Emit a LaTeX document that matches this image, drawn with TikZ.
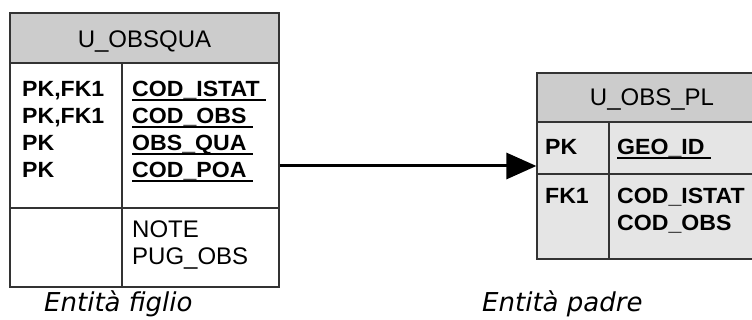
\documentclass[tikz,border=0pt]{standalone}
\usepackage{fontspec}
\setmainfont{Liberation Sans}
\newfontfamily\keyfont[FakeStretch=1.05]{Liberation Sans}
\newfontfamily\capfont{DejaVu Sans}
\usetikzlibrary{arrows.meta,positioning}

\tikzset{
    tabbox/.style={draw=black!80, line width=1.2pt, inner sep=0pt},
    tabline/.style={draw=black!80, line width=1.2pt},
    headtext/.style={font=\fontsize{24}{24}\selectfont, inner sep=0pt, anchor=base},
    keytext/.style={font=\keyfont\bfseries\fontsize{22}{22}\selectfont, inner sep=0pt, anchor=base west},
    plaintext/.style={font=\fontsize{24}{24}\selectfont, inner sep=0pt, anchor=base west},
    uline/.style={line width=2.2pt},
    captext/.style={font=\capfont\itshape\fontsize{26}{26}\selectfont, inner sep=0pt, anchor=base west}
}

\begin{document}
\begin{tikzpicture}[x=1pt, y=-1pt]
    \useasboundingbox (0,0) rectangle (752,320);
    \clip (0,0) rectangle (752,320);

    % Child entity
    \node[tabbox, fill=white, minimum width=269pt, minimum height=274pt] (child) at (144.5,150) {};
    \node[tabbox, fill=gray!40, minimum width=269pt, minimum height=50pt] (childhead) at (144.5,38) {};
    \draw[tabline] (122,63) -- (122,287);
    \draw[tabline] (10,208) -- (279,208);
    \node[headtext] (childname) at (144.5,48) {U\_OBSQUA};
    \foreach \y/\k/\n [count=\i] in {97/{PK,FK1}/{COD\_ISTAT}, 124/{PK,FK1}/{COD\_OBS},
                                     151/PK/{OBS\_QUA}, 178/PK/{COD\_POA}} {
        \node[keytext] (ck\i) at (22,\y) {\k};
        \node[keytext] (cn\i) at (132,\y) {\n};
        \draw[uline] ([yshift=-3pt]cn\i.base west) -- ([xshift=6pt,yshift=-3pt]cn\i.base east);
    }
    \node[plaintext] (cnote) at (132,238) {NOTE};
    \node[plaintext] (cpug) at (132,265) {PUG\_OBS};

    % Parent entity
    \node[tabbox, fill=gray!20, minimum width=230pt, minimum height=186pt] (parent) at (652,166) {};
    \node[tabbox, fill=gray!40, minimum width=230pt, minimum height=49pt] (parenthead) at (652,97.5) {};
    \draw[tabline] (609,122) -- (609,259);
    \draw[tabline] (537,174) -- (767,174);
    \node[headtext] (parentname) at (652,106) {U\_OBS\_PL};
    \node[keytext] (pk1) at (545,155) {PK};
    \node[keytext] (pn1) at (617,155) {GEO\_ID};
    \draw[uline] ([yshift=-3pt]pn1.base west) -- ([xshift=6pt,yshift=-3pt]pn1.base east);
    \node[keytext] (pk2) at (545,204) {FK1};
    \node[keytext] (pn2) at (617,204) {COD\_ISTAT};
    \node[keytext] (pn3) at (617,231) {COD\_OBS};

    % Relationship
    \draw[line width=3pt, -{Triangle[length=30pt,width=26pt]}] (child.east |- parent.west) -- (parent.west);

    % Captions
    \node[captext] (childcap) at (44,312) {Entità figlio};
    \node[captext] (parentcap) at (482,312) {Entità padre};
\end{tikzpicture}
\end{document}
